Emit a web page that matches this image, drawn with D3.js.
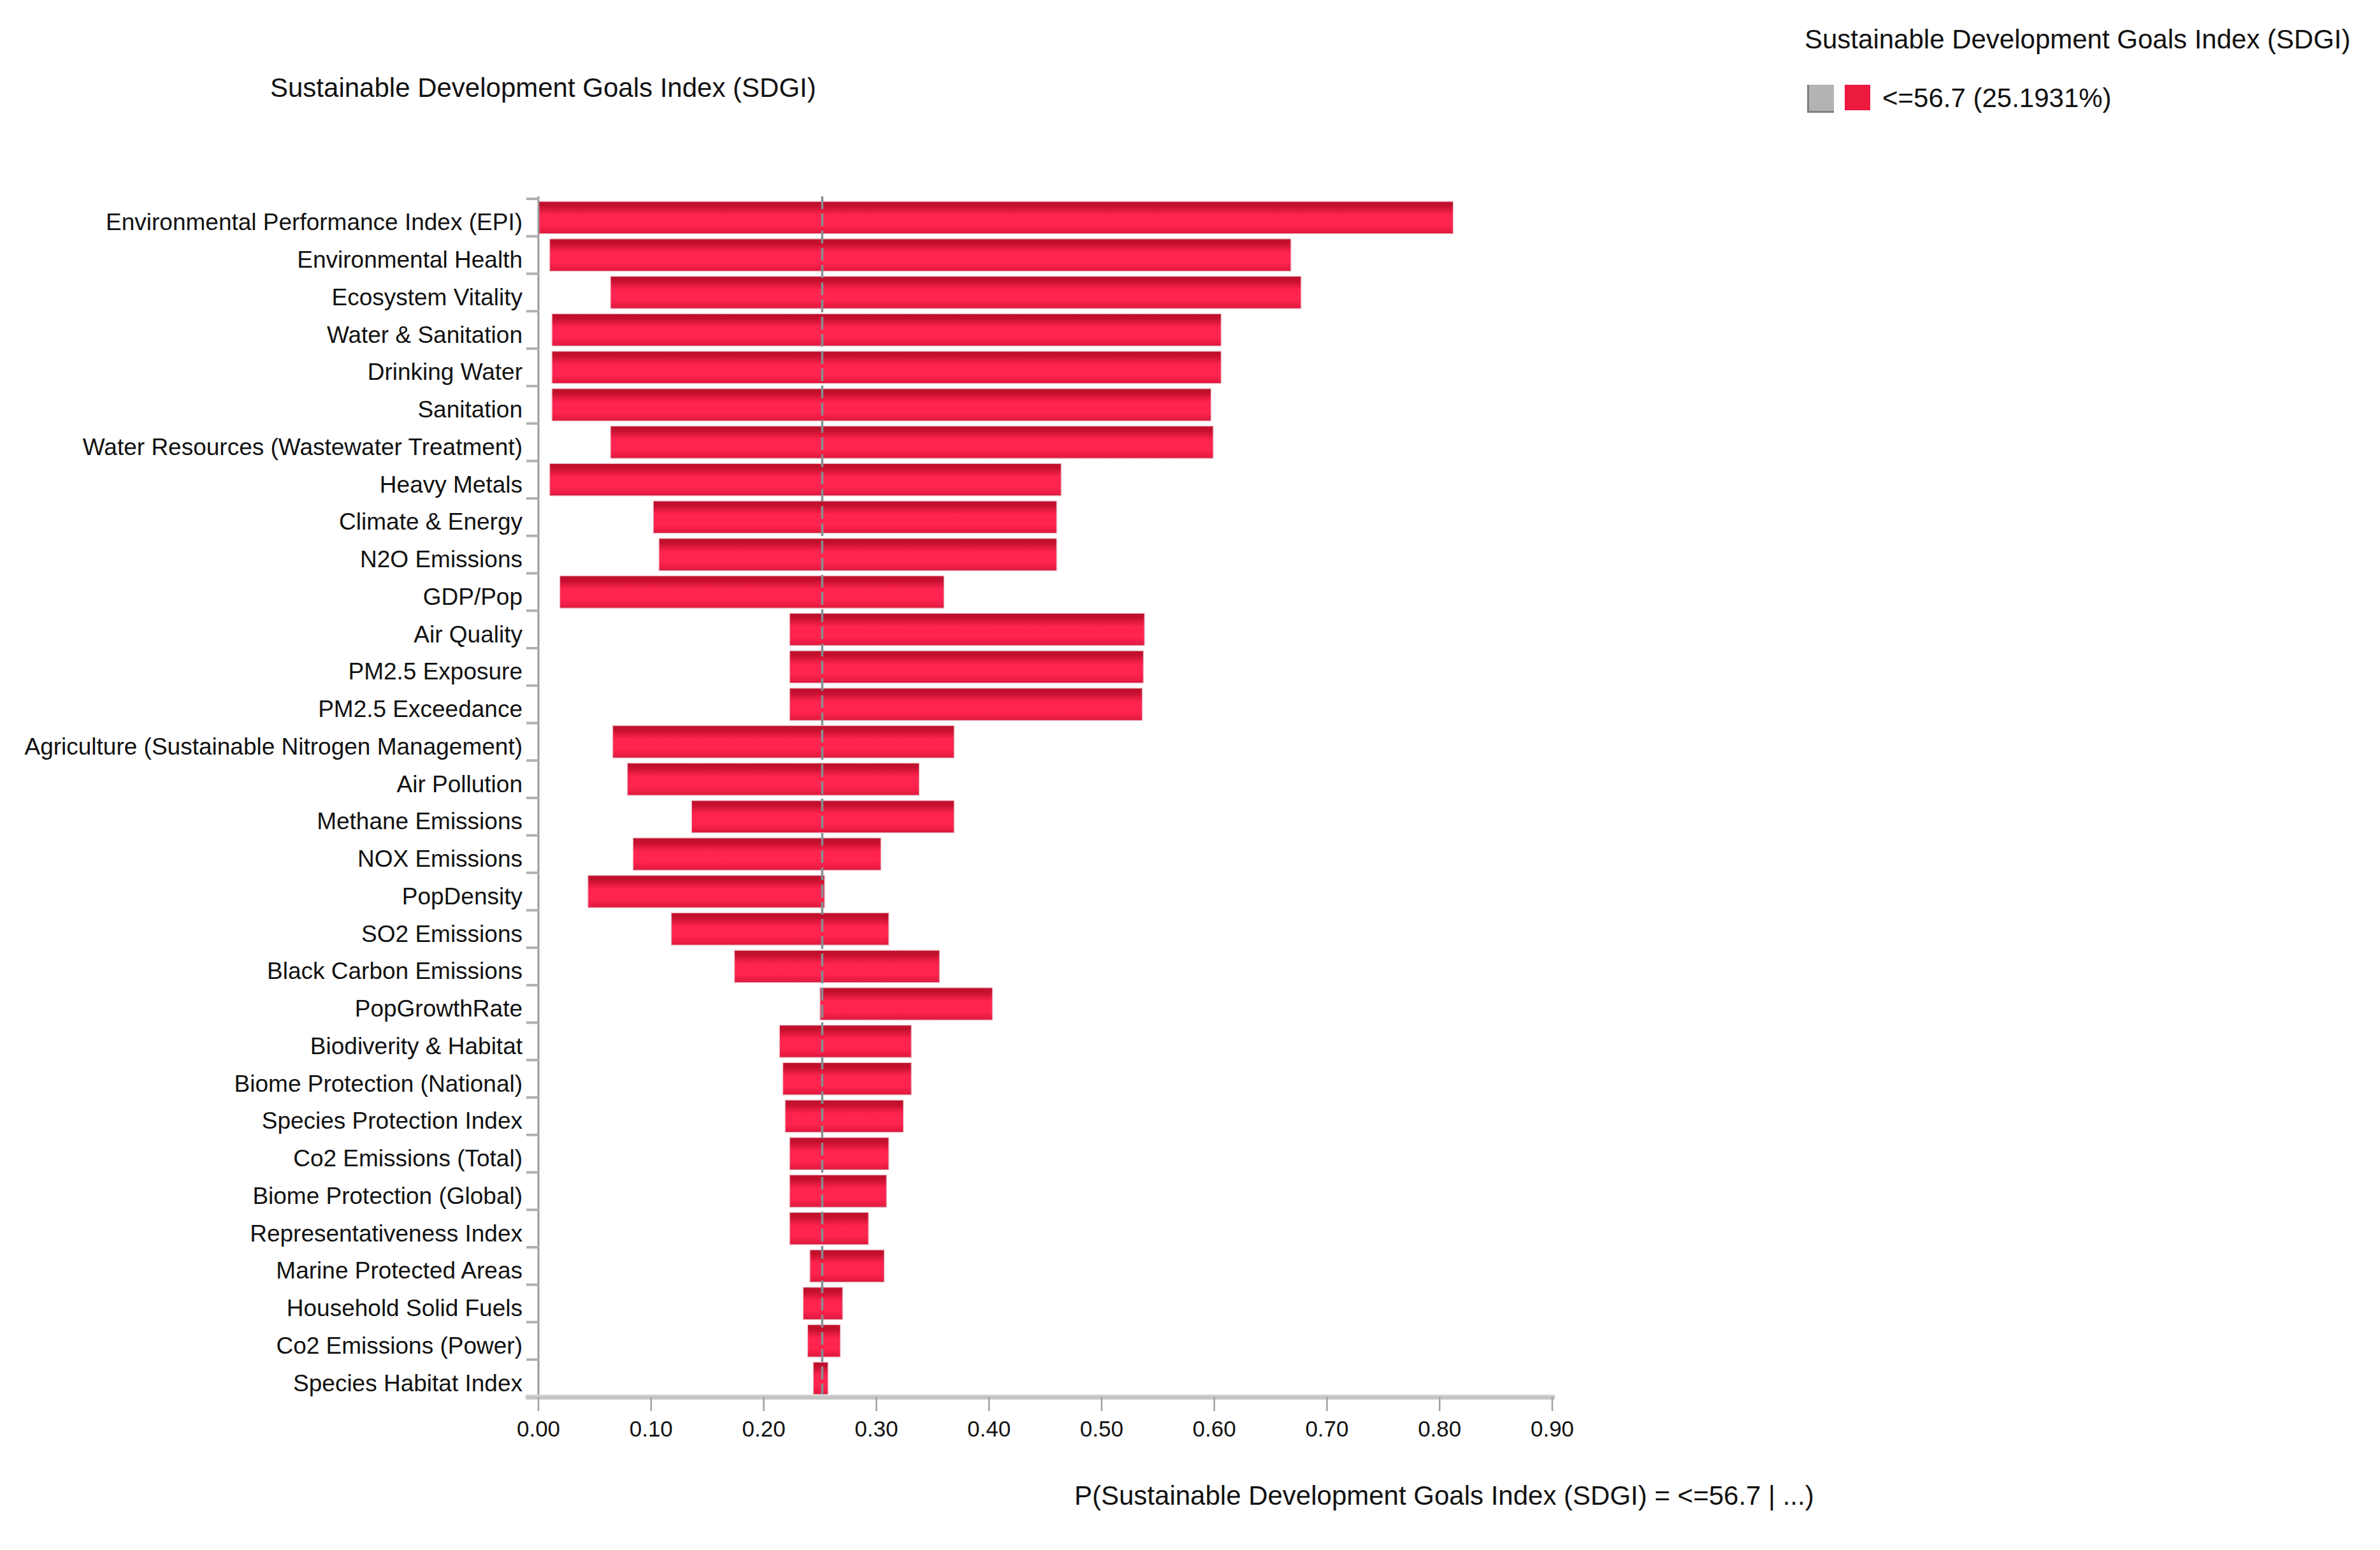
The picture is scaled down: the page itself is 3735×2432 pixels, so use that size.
<!DOCTYPE html>
<html>
<head>
<meta charset="utf-8">
<script src="https://cdn.jsdelivr.net/npm/d3@7/dist/d3.min.js"></script>
<style>
  body { margin: 0; background: #fff; }
  text { font-family: "Liberation Sans", Arial, sans-serif; fill: #111; }
</style>
</head>
<body>
<svg id="chart" width="3735" height="2432"></svg>
<script>
// Sensitivity of P(SDGI <= 56.7) to each variable: low / high ends of each bar.
const categories = [
  "Environmental Performance Index (EPI)", "Environmental Health", "Ecosystem Vitality",
  "Water & Sanitation", "Drinking Water", "Sanitation", "Water Resources (Wastewater Treatment)",
  "Heavy Metals", "Climate & Energy", "N2O Emissions", "GDP/Pop", "Air Quality",
  "PM2.5 Exposure", "PM2.5 Exceedance", "Agriculture (Sustainable Nitrogen Management)",
  "Air Pollution", "Methane Emissions", "NOX Emissions", "PopDensity", "SO2 Emissions",
  "Black Carbon Emissions", "PopGrowthRate", "Biodiverity & Habitat", "Biome Protection (National)",
  "Species Protection Index", "Co2 Emissions (Total)", "Biome Protection (Global)",
  "Representativeness Index", "Marine Protected Areas", "Household Solid Fuels",
  "Co2 Emissions (Power)", "Species Habitat Index"
];
const lowValues = [0.000, 0.010, 0.064, 0.012, 0.012, 0.012, 0.064, 0.010, 0.102, 0.107, 0.019,
  0.223, 0.223, 0.223, 0.066, 0.079, 0.136, 0.084, 0.044, 0.118, 0.174, 0.250, 0.214, 0.217,
  0.219, 0.223, 0.223, 0.223, 0.241, 0.235, 0.239, 0.244];
const highValues = [0.812, 0.668, 0.677, 0.606, 0.606, 0.597, 0.599, 0.464, 0.460, 0.460, 0.360,
  0.538, 0.537, 0.536, 0.369, 0.338, 0.369, 0.304, 0.254, 0.311, 0.356, 0.403, 0.331, 0.331,
  0.324, 0.311, 0.309, 0.293, 0.307, 0.270, 0.268, 0.257];
const xTicks = [0, 0.1, 0.2, 0.3, 0.4, 0.5, 0.6, 0.7, 0.8, 0.9];
const baseline = 0.251931;
const stateLabel = "<=56.7 (25.1931%)";
const nodeTitle = "Sustainable Development Goals Index (SDGI)";
const xTitle = "P(Sustainable Development Goals Index (SDGI) = <=56.7 | ...)";

const svg = d3.select("#chart");
const plot = { left: 845, right: 2436, top: 312, bottom: 2192 };

const x = d3.scaleLinear().domain([0, 0.9]).range([plot.left, plot.right]);
const y = d3.scaleBand().domain(categories).range([plot.top, plot.bottom])
  .paddingInner(0.14).paddingOuter(0.07);

// bar gradient: dark crimson top, bright red middle
const grad = svg.append("defs").append("linearGradient")
  .attr("id", "barGrad").attr("x1", 0).attr("y1", 0).attr("x2", 0).attr("y2", 1);
[[0, "#be0f2c"], [0.14, "#c4102e"], [0.42, "#ff2450"], [0.72, "#ff2550"],
 [0.9, "#ec1c44"], [1, "#d9193c"]].forEach(([o, c]) => {
  grad.append("stop").attr("offset", o).attr("stop-color", c);
});

const data = categories.map((c, i) => ({ name: c, lo: lowValues[i], hi: highValues[i] }));

// bars
svg.append("g").selectAll("rect").data(data).join("rect")
  .attr("x", d => x(d.lo))
  .attr("y", d => y(d.name))
  .attr("width", d => x(d.hi) - x(d.lo))
  .attr("height", y.bandwidth())
  .attr("fill", "url(#barGrad)")
  .attr("stroke", "#eab4bd").attr("stroke-width", 1.2);

// y axis line and band-boundary ticks
svg.append("line")
  .attr("x1", plot.left).attr("x2", plot.left)
  .attr("y1", plot.top - 4).attr("y2", plot.bottom)
  .attr("stroke", "#9a9a9a").attr("stroke-width", 3);
const bounds = d3.range(categories.length + 1).map(i => plot.top + i * y.step());
svg.append("g").selectAll("line").data(bounds).join("line")
  .attr("x1", plot.left - 19).attr("x2", plot.left)
  .attr("y1", d => d).attr("y2", d => d)
  .attr("stroke", "#b0b0b0").attr("stroke-width", 4);

// category labels
svg.append("g").selectAll("text").data(data).join("text")
  .attr("x", plot.left - 25)
  .attr("y", d => y(d.name) + y.bandwidth() / 2 + 20)
  .attr("text-anchor", "end")
  .attr("font-size", 37)
  .text(d => d.name);

// x axis: thick light bar with ticks below
svg.append("line")
  .attr("x1", plot.left - 20).attr("x2", plot.right + 4)
  .attr("y1", plot.bottom).attr("y2", plot.bottom)
  .attr("stroke", "#c6c6c6").attr("stroke-width", 8);
svg.append("line")
  .attr("x1", plot.left - 20).attr("x2", plot.right + 4)
  .attr("y1", plot.bottom - 3).attr("y2", plot.bottom - 3)
  .attr("stroke", "#d8d8d8").attr("stroke-width", 2);
const xt = svg.append("g");
xt.selectAll("line").data(xTicks).join("line")
  .attr("x1", d => x(d)).attr("x2", d => x(d))
  .attr("y1", plot.bottom).attr("y2", plot.bottom + 22)
  .attr("stroke", "#a0a0a0").attr("stroke-width", 2.5);
xt.selectAll("text").data(xTicks).join("text")
  .attr("x", d => x(d))
  .attr("y", plot.bottom + 62)
  .attr("text-anchor", "middle")
  .attr("font-size", 35)
  .text(d => d3.format(".2f")(d));

// baseline probability, dashed
svg.append("line")
  .attr("x1", x(baseline)).attr("x2", x(baseline))
  .attr("y1", plot.top - 4).attr("y2", plot.bottom - 4)
  .attr("stroke", "#858e92").attr("stroke-width", 3.5)
  .attr("stroke-dasharray", "20 7");

// titles
svg.append("text").attr("x", 424).attr("y", 152).attr("font-size", 42).text(nodeTitle);
svg.append("text").attr("x", 1686).attr("y", 2361).attr("font-size", 42).text(xTitle);

// legend
const legend = svg.append("g");
legend.append("text").attr("x", 2832).attr("y", 76).attr("font-size", 42).text(nodeTitle);
legend.append("rect").attr("x", 2836).attr("y", 133).attr("width", 42).attr("height", 44)
  .attr("fill", "#b3b3b3");
legend.append("path").attr("d", "M2837.5,133 V175.5 H2878")
  .attr("fill", "none").attr("stroke", "#7f7f7f").attr("stroke-width", 3);
legend.append("rect").attr("x", 2895).attr("y", 133).attr("width", 40).attr("height", 40)
  .attr("fill", "#ec1a3e");
legend.append("text").attr("x", 2954).attr("y", 168).attr("font-size", 42).text(stateLabel);
</script>
</body>
</html>
